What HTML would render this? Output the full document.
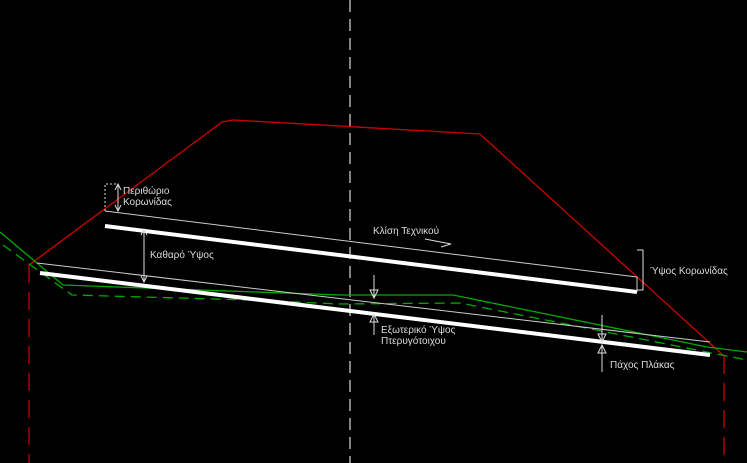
<!DOCTYPE html>
<html><head><meta charset="utf-8"><style>body{margin:0;background:#000}svg{display:block}text{font-family:"Liberation Sans",sans-serif;font-size:10px;fill:#ddd}</style></head><body>
<svg width="747" height="463" viewBox="0 0 747 463">
<rect width="747" height="463" fill="#000"/>
<line x1="350" y1="0" x2="350" y2="463" stroke="#ccc" stroke-width="1.3" stroke-dasharray="12,7"/>
<polyline points="29,265 222,122 233,120 480,134 724,356" fill="none" stroke="#c00" stroke-width="1.3"/>
<line x1="29" y1="265" x2="29" y2="463" stroke="#c00" stroke-width="1.3" stroke-dasharray="18,9"/>
<line x1="724" y1="356" x2="724" y2="463" stroke="#c00" stroke-width="1.3" stroke-dasharray="18,9"/>
<polyline points="0,232 63,285 200,290 340,295 453,295 707,347 747,352" fill="none" stroke="#0a0" stroke-width="1.3"/>
<polyline points="3,245 72,295 250,300 340,304 460,303 747,360" fill="none" stroke="#0a0" stroke-width="1.3" stroke-dasharray="10,6"/>
<line x1="105" y1="211" x2="637" y2="277" stroke="#ccc" stroke-width="1"/>
<line x1="105" y1="226" x2="637" y2="292" stroke="#fff" stroke-width="4"/>
<line x1="637" y1="277" x2="637" y2="292" stroke="#ccc" stroke-width="1"/>
<line x1="37" y1="263" x2="710" y2="342" stroke="#ccc" stroke-width="1"/>
<line x1="40" y1="273" x2="710" y2="355" stroke="#fff" stroke-width="4"/>
<g stroke="#ddd" stroke-width="1" fill="none">
<polyline points="105,211 105,184 118,184" stroke-dasharray="2,2"/>
<line x1="118" y1="184" x2="118" y2="211"/>
<polyline points="115,190 118,184 121,190"/><polyline points="115,205 118,211 121,205"/>
<line x1="144" y1="229" x2="144" y2="282"/>
<polyline points="141,235 144,229 147,235"/><polyline points="141,276 144,282 147,276"/>
<polyline points="425,239 451,244 441,247"/>
<polyline points="637,250 643,250 643,290 637,290"/>
<line x1="374" y1="275" x2="374" y2="298"/><polygon points="370,290 378,290 374,298"/>
<line x1="374" y1="314" x2="374" y2="335"/><polygon points="370,322 378,322 374,314"/>
<line x1="602" y1="315" x2="602" y2="342"/><polygon points="598,334 606,334 602,342"/>
<line x1="602" y1="345" x2="602" y2="372"/><polygon points="598,353 606,353 602,345"/>
</g>
<text x="123" y="194">Περιθώριο</text>
<text x="123" y="205">Κορωνίδας</text>
<text x="150" y="258">Καθαρό Ύψος</text>
<text x="373" y="234">Κλίση Τεχνικού</text>
<text x="650" y="274">Ύψος Κορωνίδας</text>
<text x="381" y="333">Εξωτερικό Ύψος</text>
<text x="381" y="344">Πτερυγότοιχου</text>
<text x="610" y="368">Πάχος Πλάκας</text>
</svg>
</body></html>
